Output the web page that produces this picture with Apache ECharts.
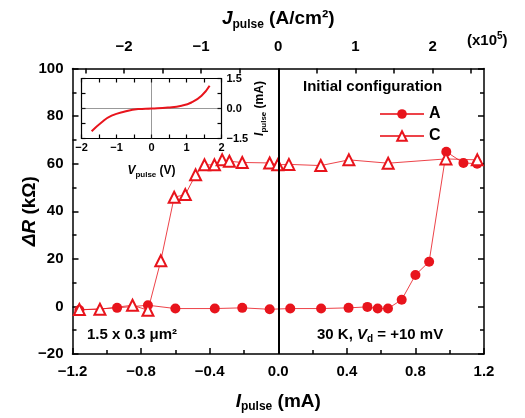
<!DOCTYPE html>
<html>
<head>
<meta charset="utf-8">
<script src="https://cdn.jsdelivr.net/npm/echarts@6/dist/echarts.min.js"></script>
<style>html,body{margin:0;padding:0;background:#fff}#c{width:525px;height:418px}</style>
</head>
<body>
<div id="c"></div>
<script>
// ---- data ----
// Configuration A (filled circles): I_pulse (mA), ΔR (kΩ)
const currentA = [-1.16, -0.94, -0.76, -0.60, -0.37, -0.21, -0.05, 0.07, 0.25, 0.41, 0.52, 0.58, 0.64, 0.72, 0.80, 0.88, 0.98, 1.08, 1.16];
const deltaRA  = [-1.5, -0.6, 0.5, -0.9, -0.9, -0.6, -1.2, -0.9, -0.9, -0.6, -0.2, -0.9, -0.9, 2.8, 13.2, 18.8, 65.0, 60.3, 60.0];
// Configuration C (open triangles)
const currentC = [-1.16, -1.04, -0.85, -0.76, -0.685, -0.607, -0.542, -0.482, -0.43, -0.372, -0.327, -0.285, -0.21, -0.05, -0.003, 0.062, 0.248, 0.412, 0.641, 0.978, 1.161];
const deltaRC  = [-1.3, -1.2, 0.5, -1.6, 19.2, 45.9, 47.0, 55.3, 59.5, 59.5, 61.6, 61.0, 60.5, 60.3, 59.5, 59.7, 59.2, 61.6, 60.2, 62.0, 61.6];
// Inset I-V curve: V_pulse (V), I_pulse (mA)
const insetV = [-1.71, -1.43, -1.14, -0.76, -0.38, 0, 0.47, 0.86, 1.14, 1.43, 1.66];
const insetI = [-1.14, -0.70, -0.36, -0.15, -0.03, 0, 0.05, 0.14, 0.30, 0.64, 1.14];
// tick labels
const xTickLabels = [-1.2, -0.8, -0.4, 0.0, 0.4, 0.8, 1.2];
const yTickLabels = [-20, 0, 20, 40, 60, 80, 100];
const topTickLabels = [-2, -1, 0, 1, 2];           // J_pulse (x10^5 A/cm^2)
const topMinorTicks = [-2.5, -2, -1.5, -1, -0.5, 0, 0.5, 1, 1.5, 2, 2.5];
const insetXTickLabels = [-2, -1, 0, 1, 2];
const insetYTickLabels = [-1.5, 0.0, 1.5];
const seriesNames = ['A', 'C'];
// conversion: J (x10^5 A/cm^2) per mA for a 1.5 x 0.3 um^2 junction
const J_PER_MA = 1e-3 / (1.5e-4 * 0.3e-4) / 1e5;

const FONT = '"Liberation Sans", Arial, Helvetica, sans-serif';
const RED = '#e8141c';
const BLACK = '#000';

const axisLineS = {show: true, onZero: false, lineStyle: {color: BLACK, width: 1.5}};
const tickS = (len) => ({show: true, inside: true, length: len, lineStyle: {color: BLACK, width: 1.5}});
const minus = s => String(s).replace('-', '\u2212');

const chart = echarts.init(document.getElementById('c'), null, {renderer: 'canvas'});

const subRich = {
  it: {fontFamily: FONT, fontSize: 19, fontWeight: 'bold', fontStyle: 'italic', color: BLACK, lineHeight: 24, verticalAlign: 'bottom'},
  sub: {fontFamily: FONT, fontSize: 12, fontWeight: 'bold', color: BLACK, lineHeight: 24, verticalAlign: 'bottom', padding: [0, 0, -2, 0]},
  n: {fontFamily: FONT, fontSize: 19, fontWeight: 'bold', color: BLACK, lineHeight: 24, verticalAlign: 'bottom'}
};
const insetRich = {
  it: {fontFamily: FONT, fontSize: 12, fontWeight: 'bold', fontStyle: 'italic', color: BLACK, lineHeight: 16, verticalAlign: 'bottom'},
  sub: {fontFamily: FONT, fontSize: 8, fontWeight: 'bold', color: BLACK, lineHeight: 16, verticalAlign: 'bottom', padding: [0, 0, -2, 0]},
  n: {fontFamily: FONT, fontSize: 12, fontWeight: 'bold', color: BLACK, lineHeight: 16, verticalAlign: 'bottom'}
};
const annRich = {
  n: {fontFamily: FONT, fontSize: 15, fontWeight: 'bold', color: BLACK, lineHeight: 20, verticalAlign: 'bottom'},
  it: {fontFamily: FONT, fontSize: 15, fontWeight: 'bold', fontStyle: 'italic', color: BLACK, lineHeight: 20, verticalAlign: 'bottom'},
  sub: {fontFamily: FONT, fontSize: 10, fontWeight: 'bold', color: BLACK, lineHeight: 20, verticalAlign: 'bottom', padding: [0, 0, -2, 0]},
  sup: {fontFamily: FONT, fontSize: 10, fontWeight: 'bold', color: BLACK, lineHeight: 20, verticalAlign: 'bottom', padding: [0, 0, 7, 0]}
};

const fmt1 = v => minus((Math.abs(v) < 1e-9 ? 0 : v).toFixed(1));

const option = {
  backgroundColor: '#fff',
  animation: false,
  textStyle: {fontFamily: FONT},
  grid: [
    {left: 72.5, right: 41, top: 68.5, bottom: 61.5},
    {left: 81.5, top: 78.5, width: 140, height: 60, show: true, backgroundColor: '#fff', borderWidth: 0}
  ],
  legend: {
    data: seriesNames, orient: 'vertical', left: 374, top: 101,
    itemWidth: 44, itemHeight: 12, itemGap: 6,
    textStyle: {fontFamily: FONT, fontSize: 16, fontWeight: 'bold', color: BLACK}
  },
  xAxis: [
    { // main bottom
      type: 'value', gridIndex: 0, position: 'bottom', min: -1.2, max: 1.2, interval: 0.4,
      axisLine: axisLineS, axisTick: tickS(6),
      minorTick: {show: true, splitNumber: 2, length: 4, lineStyle: {color: BLACK, width: 1.5}},
      splitLine: {show: false},
      axisLabel: {customValues: xTickLabels, formatter: fmt1, fontFamily: FONT, fontSize: 15, fontWeight: 'bold', color: BLACK, margin: 10},
      name: '{it|I}{sub|pulse}{n| (mA)}', nameLocation: 'middle', nameGap: 33,
      nameTextStyle: {rich: subRich}
    },
    { // main top (J_pulse)
      type: 'value', gridIndex: 0, position: 'top', min: -1.2, max: 1.2,
      axisLine: axisLineS,
      axisTick: {show: true, inside: true, length: 5, lineStyle: {color: BLACK, width: 1.5}, customValues: topMinorTicks.map(j => j / J_PER_MA)},
      splitLine: {show: false},
      axisLabel: {customValues: topTickLabels.map(j => j / J_PER_MA), formatter: v => minus(Math.round(v * J_PER_MA)),
        fontFamily: FONT, fontSize: 15, fontWeight: 'bold', color: BLACK, margin: 14},
      name: '{it|J}{sub|pulse}{n| (A/cm²)}', nameLocation: 'middle', nameGap: 40,
      nameTextStyle: {rich: subRich}
    },
    { // inset bottom
      type: 'value', gridIndex: 1, position: 'bottom', min: -2, max: 2, interval: 1,
      axisLine: {show: true, onZero: false, lineStyle: {color: BLACK, width: 1.2}},
      axisTick: {show: true, inside: true, length: 4, lineStyle: {color: BLACK, width: 1.2}},
      minorTick: {show: true, splitNumber: 2, length: 4, lineStyle: {color: BLACK, width: 1.2}},
      splitLine: {show: false},
      axisLabel: {customValues: insetXTickLabels, formatter: v => minus(v), fontFamily: FONT, fontSize: 11, fontWeight: 'bold', color: BLACK, margin: 4},
      name: '{it|V}{sub|pulse}{n| (V)}', nameLocation: 'middle', nameGap: 22,
      nameTextStyle: {rich: insetRich}
    },
    { // inset top
      type: 'value', gridIndex: 1, position: 'top', min: -2, max: 2, interval: 1,
      axisLine: {show: true, onZero: false, lineStyle: {color: BLACK, width: 1.2}},
      axisTick: {show: true, inside: true, length: 4, lineStyle: {color: BLACK, width: 1.2}},
      minorTick: {show: true, splitNumber: 2, length: 4, lineStyle: {color: BLACK, width: 1.2}},
      splitLine: {show: false}, axisLabel: {show: false}
    }
  ],
  yAxis: [
    { // main left
      type: 'value', gridIndex: 0, position: 'left', min: -20, max: 100, interval: 20,
      axisLine: axisLineS, axisTick: tickS(6),
      minorTick: {show: true, splitNumber: 2, length: 4, lineStyle: {color: BLACK, width: 1.5}},
      splitLine: {show: false},
      axisLabel: {customValues: yTickLabels, formatter: v => minus(v), fontFamily: FONT, fontSize: 15, fontWeight: 'bold', color: BLACK, margin: 9},
      name: '{it|ΔR}{n| (kΩ)}', nameLocation: 'middle', nameGap: 33, nameRotate: 90, nameMoveOverlap: false,
      nameTextStyle: {rich: subRich}
    },
    { // main right
      type: 'value', gridIndex: 0, position: 'right', min: -20, max: 100, interval: 20,
      axisLine: axisLineS, axisTick: tickS(6),
      minorTick: {show: true, splitNumber: 2, length: 4, lineStyle: {color: BLACK, width: 1.5}},
      splitLine: {show: false}, axisLabel: {show: false}
    },
    { // inset left
      type: 'value', gridIndex: 1, position: 'left', min: -1.5, max: 1.5, interval: 1.5,
      axisLine: {show: true, onZero: false, lineStyle: {color: BLACK, width: 1.2}},
      axisTick: {show: true, inside: true, length: 4, lineStyle: {color: BLACK, width: 1.2}},
      minorTick: {show: true, splitNumber: 2, length: 4, lineStyle: {color: BLACK, width: 1.2}},
      splitLine: {show: false}, axisLabel: {show: false}
    },
    { // inset right
      type: 'value', gridIndex: 1, position: 'right', min: -1.5, max: 1.5, interval: 1.5,
      axisLine: {show: true, onZero: false, lineStyle: {color: BLACK, width: 1.2}},
      axisTick: {show: true, inside: true, length: 4, lineStyle: {color: BLACK, width: 1.2}},
      minorTick: {show: true, splitNumber: 2, length: 4, lineStyle: {color: BLACK, width: 1.2}},
      splitLine: {show: false},
      axisLabel: {customValues: insetYTickLabels, formatter: fmt1, fontFamily: FONT, fontSize: 11, fontWeight: 'bold', color: BLACK, margin: 5},
      name: '{it|I}{sub|pulse}{n| (mA)}', nameLocation: 'middle', nameGap: 28, nameRotate: 90,
      nameTextStyle: {rich: insetRich}
    }
  ],
  series: [
    {
      name: 'A', type: 'line', xAxisIndex: 0, yAxisIndex: 0,
      data: currentA.map((x, i) => [x, deltaRA[i]]),
      symbol: 'circle', symbolSize: 10,
      itemStyle: {color: RED, borderColor: RED, borderWidth: 0},
      lineStyle: {color: RED, width: 1, opacity: 0.8},
      z: 3,
      markLine: {
        silent: true, symbol: ['none', 'none'], label: {show: false},
        lineStyle: {color: BLACK, width: 2, type: 'solid'},
        data: [{xAxis: 0}]
      }
    },
    {
      name: 'C', type: 'line', xAxisIndex: 0, yAxisIndex: 0,
      data: currentC.map((x, i) => [x, deltaRC[i]]),
      symbol: 'triangle', symbolSize: 11,
      itemStyle: {color: '#fff', borderColor: RED, borderWidth: 2},
      lineStyle: {color: RED, width: 1, opacity: 0.8},
      z: 4
    },
    {
      name: 'IV', type: 'line', xAxisIndex: 2, yAxisIndex: 2,
      data: insetV.map((v, i) => [v, insetI[i]]),
      smooth: 0.5, symbol: 'none',
      lineStyle: {color: RED, width: 2},
      z: 5,
      markLine: {
        silent: true, symbol: ['none', 'none'], label: {show: false},
        lineStyle: {color: '#333', width: 1, type: 'dotted'},
        data: [{xAxis: 0}, {yAxis: 0}]
      }
    }
  ],
  graphic: [
    {type: 'text', left: 303, top: 79, style: {text: 'Initial configuration', font: 'bold 15px ' + FONT, fill: BLACK}},
    {type: 'text', left: 87, top: 327, style: {text: '{n|1.5 x 0.3 μm²}', rich: annRich}},
    {type: 'text', left: 317, top: 327, style: {text: '{n|30 K, }{it|V}{sub|d}{n| = +10 mV}', rich: annRich}},
    {type: 'text', left: 467, top: 31, style: {text: '{n|(x10}{sup|5}{n|)}', rich: annRich}}
  ]
};
chart.setOption(option);
</script>
</body>
</html>
